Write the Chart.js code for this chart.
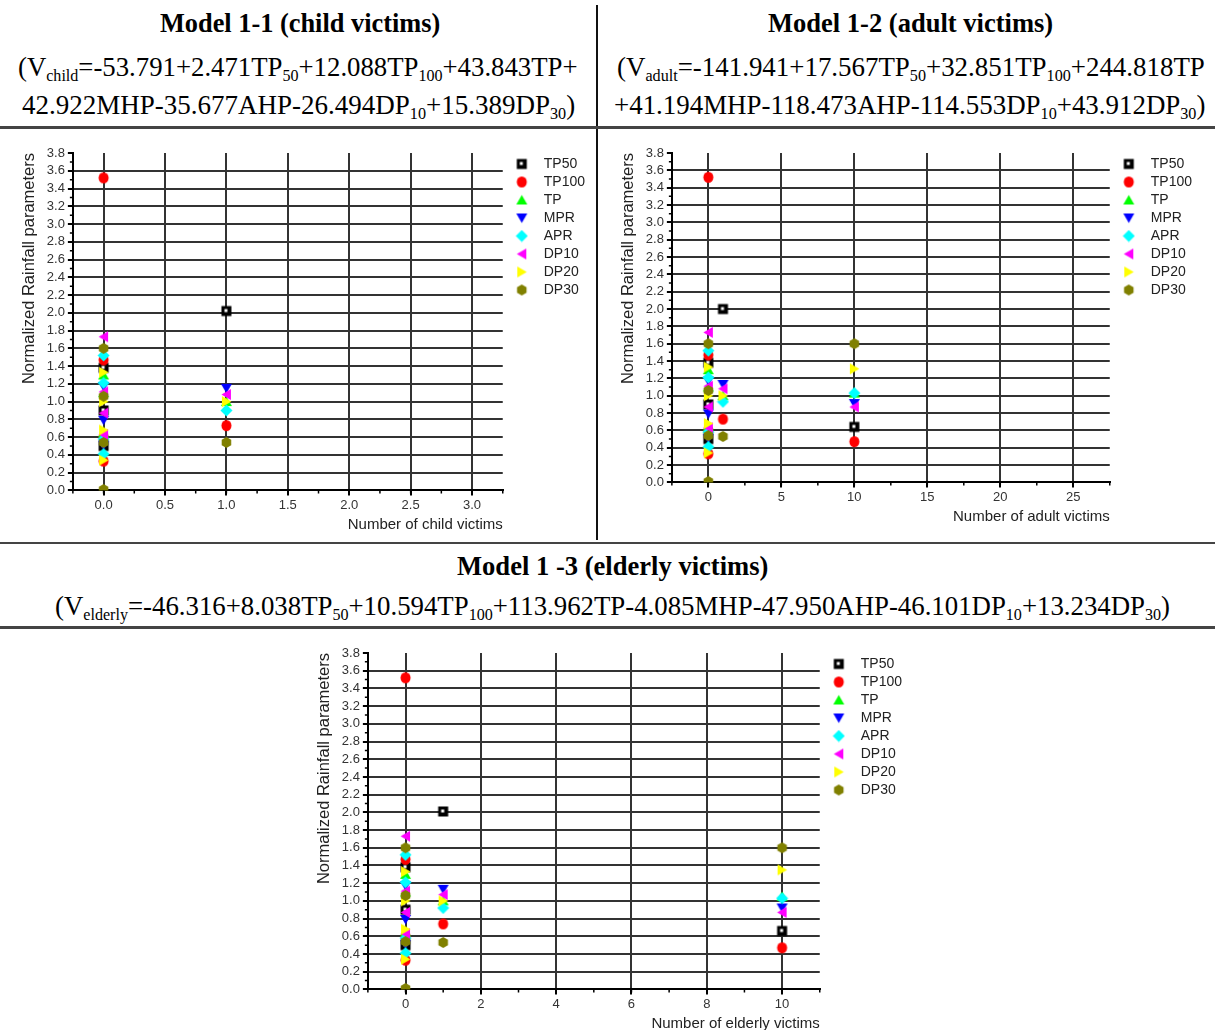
<!DOCTYPE html>
<html>
<head>
<meta charset="utf-8">
<script src="https://cdn.jsdelivr.net/npm/chart.js@4.4.1/dist/chart.umd.min.js"></script>
<style>
body{margin:0;background:#fff;width:1215px;height:1030px;position:relative;overflow:hidden;font-family:"Liberation Serif","Times New Roman",serif;}
.t{position:absolute;white-space:nowrap;font-size:27px;line-height:30px;color:#000;transform-origin:0 50%;}
.b{font-weight:bold;}
sub{font-size:0.6em;vertical-align:-0.3em;line-height:0;}
.rule{position:absolute;background:#444;}
canvas{position:absolute;}
</style>
</head>
<body>
<div class="rule" style="left:596px;top:5px;width:2px;height:535px;background:#111"></div>
<div class="rule" style="left:0;top:126px;width:1215px;height:3px;"></div>
<div class="rule" style="left:0;top:542px;width:1215px;height:2px;"></div>
<div class="rule" style="left:0;top:626px;width:1215px;height:3px;"></div>

<div class="t b" data-x="160" data-w="280" data-y="23">Model 1-1 (child victims)</div>
<div class="t" data-x="18" data-w="560" data-y="67">(V<sub>child</sub>=-53.791+2.471TP<sub>50</sub>+12.088TP<sub>100</sub>+43.843TP+</div>
<div class="t" data-x="22" data-w="553" data-y="105">42.922MHP-35.677AHP-26.494DP<sub>10</sub>+15.389DP<sub>30</sub>)</div>

<div class="t b" data-x="768" data-w="285" data-y="23">Model 1-2 (adult victims)</div>
<div class="t" data-x="617" data-w="588" data-y="67">(V<sub>adult</sub>=-141.941+17.567TP<sub>50</sub>+32.851TP<sub>100</sub>+244.818TP</div>
<div class="t" data-x="614" data-w="591" data-y="105">+41.194MHP-118.473AHP-114.553DP<sub>10</sub>+43.912DP<sub>30</sub>)</div>

<div class="t b" data-x="457" data-w="311" data-y="566">Model 1 -3 (elderly victims)</div>
<div class="t" data-x="55" data-w="1115" data-y="606">(V<sub>elderly</sub>=-46.316+8.038TP<sub>50</sub>+10.594TP<sub>100</sub>+113.962TP-4.085MHP-47.950AHP-46.101DP<sub>10</sub>+13.234DP<sub>30</sub>)</div>

<canvas id="child" width="578" height="400" style="left:20px;top:138px"></canvas>
<canvas id="adult" width="596" height="395" style="left:619px;top:138px"></canvas>
<canvas id="elderly" width="597" height="393" style="left:315px;top:638px"></canvas>

<script>
// series
const seriesNames = ['TP50', 'TP100', 'TP', 'MPR', 'APR', 'DP10', 'DP20', 'DP30'];
const seriesColors = ['#000000', '#ff0000', '#00ff00', '#0000ff', '#00ffff', '#ff00ff', '#ffff00', '#808000'];

// values at 0 victims (same in the three models)
const tp50Zero = [1.38, 0.9, 0.5];
const tp100Zero = [3.52, 1.47, 0.6, 0.33];
const tpZero = [1.3, 1.1, 0.65];
const mprZero = [1.17, 0.79, 0.51];
const aprZero = [1.52, 1.21, 0.58, 0.41];
const dp10Zero = [1.73, 1.11, 0.87, 0.63];
const dp20Zero = [1.33, 1.0, 0.68, 0.34];
const dp30Zero = [1.6, 1.06, 0.54, 0.01];
const zeroValues = [tp50Zero, tp100Zero, tpZero, mprZero, aprZero, dp10Zero, dp20Zero, dp30Zero];

// values at 1 and 10 victims, in series order
const childOne = [2.02, 0.73, 1.0, 1.15, 0.9, 1.08, 1.0, 0.54];
const adultOne = [2.0, 0.73, 1.0, 1.13, 0.93, 1.08, 1.0, 0.53];
const adultTen = [0.64, 0.47, 1.03, 0.91, 1.03, 0.87, 1.31, 1.6];
const elderlyOne = [2.01, 0.74, 1.0, 1.13, 0.92, 1.07, 1.0, 0.53];
const elderlyTen = [0.66, 0.47, 1.05, 0.92, 1.03, 0.87, 1.35, 1.6];

// ticks
const yTicks = [0, 0.2, 0.4, 0.6, 0.8, 1.0, 1.2, 1.4, 1.6, 1.8, 2.0, 2.2, 2.4, 2.6, 2.8, 3.0, 3.2, 3.4, 3.6, 3.8];
const childXTicks = [0, 0.5, 1.0, 1.5, 2.0, 2.5, 3.0];
const adultXTicks = [0, 5, 10, 15, 20, 25];
const elderlyXTicks = [0, 2, 4, 6, 8, 10];

// fit the header lines to their width
document.querySelectorAll('.t').forEach(function(el){
  el.style.left = el.dataset.x + 'px';
  el.style.top = (el.dataset.y - 15) + 'px';
  var s = el.dataset.w / el.offsetWidth;
  el.style.transform = 'scaleX(' + s + ')';
});

function makeMarker(i){
  var c = document.createElement('canvas');
  c.width = 13; c.height = 13;
  var g = c.getContext('2d');
  var m = 6.5;
  g.fillStyle = seriesColors[i];
  g.beginPath();
  if (i == 0){
    g.fillRect(1.5, 1.5, 10, 10);
    g.fillStyle = '#fff';
    g.fillRect(4.5, 4.5, 3, 3);
    return c;
  } else if (i == 1){
    g.ellipse(m, m, 5, 5.5, 0, 0, Math.PI * 2);
  } else if (i == 2){
    g.moveTo(m, 1.5); g.lineTo(12, 11); g.lineTo(1, 11);
  } else if (i == 3){
    g.moveTo(1, 2); g.lineTo(12, 2); g.lineTo(m, 11.5);
  } else if (i == 4){
    g.moveTo(m, 0.5); g.lineTo(12.5, m); g.lineTo(m, 12.5); g.lineTo(0.5, m);
  } else if (i == 5){
    g.moveTo(1.5, m); g.lineTo(11, 1); g.lineTo(11, 12);
  } else if (i == 6){
    g.moveTo(11.5, m); g.lineTo(2, 1); g.lineTo(2, 12);
  } else {
    for (var k = 0; k < 6; k++){
      var a = Math.PI / 3 * k + Math.PI / 6;
      g.lineTo(m + 5.5 * Math.cos(a), m + 5.5 * Math.sin(a));
    }
  }
  g.closePath();
  g.fill();
  return c;
}
const markers = seriesNames.map(function(n, i){ return makeMarker(i); });

function buildDatasets(columns){
  return seriesNames.map(function(name, i){
    var pts = zeroValues[i].map(function(v){ return {x: 0, y: v}; });
    columns.forEach(function(col){ pts.push({x: col[0], y: col[1][i]}); });
    return {
      label: name,
      data: pts,
      pointStyle: markers[i],
      radius: 5,
      borderColor: seriesColors[i],
      backgroundColor: seriesColors[i],
      order: 8 - i
    };
  });
}

// small ticks between the labelled ones
const minorTicks = {
  id: 'minorTicks',
  afterDraw(chart, args, opts){
    var ctx = chart.ctx, x = chart.scales.x, y = chart.scales.y;
    ctx.save();
    ctx.strokeStyle = '#000';
    ctx.lineWidth = 1.5;
    ctx.beginPath();
    for (var v = Math.ceil(x.min / opts.x) * opts.x; v <= x.max + 1e-9; v += opts.x){
      var px = x.getPixelForValue(v);
      ctx.moveTo(px, x.top); ctx.lineTo(px, x.top + 3);
    }
    for (var w = 0.1; w < 3.8; w += 0.2){
      var py = y.getPixelForValue(w);
      ctx.moveTo(y.right - 3, py); ctx.lineTo(y.right, py);
    }
    ctx.stroke();
    ctx.restore();
  }
};

Chart.defaults.font.family = '"Liberation Sans", Arial, sans-serif';

function makeChart(id, datasets, xMin, xMax, xTicks, xFmt, xMinor, xTitle, pad){
  return new Chart(document.getElementById(id), {
    type: 'scatter',
    data: {datasets: datasets},
    plugins: [minorTicks],
    options: {
      responsive: false,
      animation: false,
      devicePixelRatio: 1,
      layout: {padding: pad},
      scales: {
        x: {
          type: 'linear', min: xMin, max: xMax,
          afterBuildTicks: function(s){ s.ticks = xTicks.map(function(v){ return {value: v}; }); },
          ticks: {color: '#333', font: {size: 13}, padding: 2, maxRotation: 0, autoSkip: false,
            callback: function(v){ return xFmt(v); }},
          grid: {color: '#333', lineWidth: 2, tickColor: '#000', tickLength: 5},
          border: {color: '#000', width: 2},
          title: {display: true, text: xTitle, align: 'end', color: '#222', font: {size: 15, lineHeight: 1}, padding: {top: 2, bottom: 0}}
        },
        y: {
          type: 'linear', min: 0, max: 3.8,
          afterBuildTicks: function(s){ s.ticks = yTicks.map(function(v){ return {value: v}; }); },
          ticks: {color: '#333', font: {size: 13}, padding: 3, autoSkip: false,
            callback: function(v){ return v.toFixed(1); }},
          grid: {
            color: function(c){ return c.tick && c.tick.value > 3.7 ? 'rgba(0,0,0,0)' : '#333'; },
            lineWidth: 2, tickColor: '#000', tickLength: 5
          },
          border: {color: '#000', width: 2},
          title: {display: true, text: 'Normalized Rainfall parameters', align: 'end', color: '#222', font: {size: 16.5}, padding: {top: 0, bottom: 4}}
        }
      },
      plugins: {
        minorTicks: {x: xMinor},
        tooltip: {enabled: false},
        legend: {
          position: 'right', align: 'start',
          labels: {
            usePointStyle: true, pointStyleWidth: 30, boxHeight: 14, padding: 4,
            color: '#222', font: {size: 14},
            sort: function(a, b){ return a.datasetIndex - b.datasetIndex; }
          }
        }
      }
    }
  });
}

makeChart('child', buildDatasets([[1, childOne]]), -0.25, 3.25, childXTicks,
  function(v){ return v.toFixed(1); }, 0.25, 'Number of child victims',
  {top: 15, bottom: 6, left: 0, right: 3});

makeChart('adult', buildDatasets([[1, adultOne], [10, adultTen]]), -2.5, 27.5, adultXTicks,
  function(v){ return String(v); }, 2.5, 'Number of adult victims',
  {top: 15, bottom: 9, left: 0, right: 13});

makeChart('elderly', buildDatasets([[1, elderlyOne], [10, elderlyTen]]), -1, 11, elderlyXTicks,
  function(v){ return String(v); }, 1, 'Number of elderly victims',
  {top: 15, bottom: 0, left: 0, right: 0});
</script>
</body>
</html>
